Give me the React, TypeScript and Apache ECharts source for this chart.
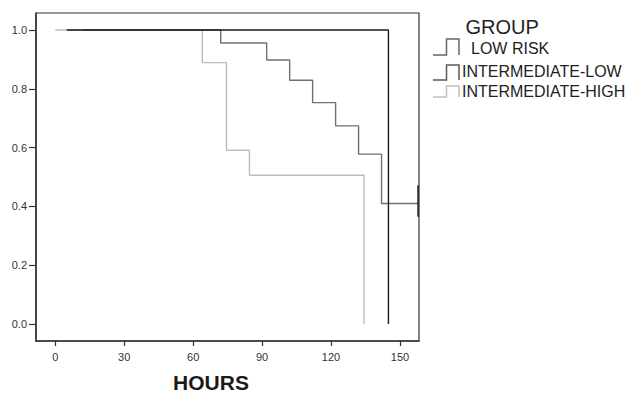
import React, { useEffect, useRef } from "react";
import * as echarts from "echarts";

const xTicks = [0, 30, 60, 90, 120, 150];
const yTicks = [0, 0.2, 0.4, 0.6, 0.8, 1.0];
const xRange = [-8.4, 158.3];
const yRange = [-0.058, 1.058];

const groupNames = ["LOW RISK", "INTERMEDIATE-LOW", "INTERMEDIATE-HIGH"];
const groupColors = ["#1a1a1a", "#707070", "#bdbdbd"];
const legendIconColors = ["#666666", "#5a5a5a", "#c0c0c0"];

const lowRisk: [number, number][] = [
  [5, 1.0],
  [145, 0.0],
];
const intermediateLow: [number, number][] = [
  [12, 1.0],
  [72, 0.956],
  [92, 0.898],
  [102, 0.829],
  [112, 0.753],
  [122, 0.674],
  [132, 0.578],
  [142, 0.41],
  [158.3, 0.41],
];
const intermediateHigh: [number, number][] = [
  [0, 1.0],
  [64, 0.889],
  [74.5, 0.591],
  [84.5, 0.506],
  [134.4, 0.0],
];
const censorMark: [number, number][] = [
  [157.9, 0.472],
  [157.9, 0.365],
];

export default function App() {
  const ref = useRef<HTMLDivElement>(null);
  useEffect(() => {
    if (!ref.current) return;
    const chart = echarts.init(ref.current, null, { renderer: "svg" });
    const font = "'Liberation Sans', Arial, sans-serif";
    const seriesData = [lowRisk, intermediateLow, intermediateHigh];
    const legendRows = [
      { iconTop: 39, iconBottom: 55, textX: 471, textY: 48 },
      { iconTop: 65, iconBottom: 80, textX: 462, textY: 71.5 },
      { iconTop: 86, iconBottom: 97, textX: 462, textY: 91.5 },
    ];
    const graphics: any[] = [
      {
        type: "text",
        x: 465.5,
        y: 27,
        style: {
          text: "GROUP",
          font: `20px ${font}`,
          fill: "#222",
          textVerticalAlign: "middle",
        },
      },
    ];
    legendRows.forEach((r, i) => {
      graphics.push({
        type: "polyline",
        shape: {
          points: [
            [433, r.iconBottom],
            [446.5, r.iconBottom],
            [446.5, r.iconTop],
            [459, r.iconTop],
            [459, r.iconBottom],
          ],
        },
        style: { stroke: legendIconColors[i], lineWidth: 1.5, fill: null },
      });
      graphics.push({
        type: "text",
        x: r.textX,
        y: r.textY,
        style: {
          text: groupNames[i],
          font: `16px ${font}`,
          fill: "#222",
          textVerticalAlign: "middle",
        },
      });
    });
    graphics.push({
      type: "text",
      x: 211,
      y: 382.5,
      style: {
        text: "HOURS",
        font: `bold 21px ${font}`,
        fill: "#1a1a1a",
        textAlign: "center",
        textVerticalAlign: "middle",
      },
    });

    chart.setOption({
      animation: false,
      backgroundColor: "#fff",
      grid: {
        left: 36,
        right: 206,
        top: 13,
        bottom: 54,
        show: true,
        borderColor: "#333",
        borderWidth: 1.2,
        containLabel: false,
      },
      xAxis: {
        type: "value",
        min: xRange[0],
        max: xRange[1],
        splitLine: { show: false },
        axisLine: { show: true, onZero: false, lineStyle: { color: "#333", width: 1.5 } },
        axisTick: {
          show: true,
          customValues: xTicks,
          length: 5,
          lineStyle: { color: "#333", width: 1.2 },
        },
        axisLabel: {
          customValues: xTicks,
          margin: 10,
          fontSize: 11,
          fontFamily: font,
          color: "#333",
        },
      },
      yAxis: {
        type: "value",
        min: yRange[0],
        max: yRange[1],
        splitLine: { show: false },
        axisLine: { show: true, onZero: false, lineStyle: { color: "#333", width: 1.5 } },
        axisTick: {
          show: true,
          customValues: yTicks,
          length: 7,
          lineStyle: { color: "#333", width: 1.2 },
        },
        axisLabel: {
          customValues: yTicks,
          margin: 9,
          fontSize: 11,
          fontFamily: font,
          color: "#333",
          formatter: (v: number) => v.toFixed(1),
        },
      },
      series: [
        ...seriesData.map((d, i) => ({
          type: "line",
          name: groupNames[i],
          step: "end",
          data: d,
          symbol: "none",
          z: 3 - i,
          lineStyle: { color: groupColors[i], width: 1.4 },
        })),
        {
          type: "line",
          name: "censor",
          data: censorMark,
          symbol: "none",
          clip: false,
          z: 4,
          lineStyle: { color: "#222", width: 1.6 },
        },
      ],
      graphic: graphics,
    });
    return () => chart.dispose();
  }, []);
  return (
    <div
      ref={ref}
      style={{ position: "fixed", left: 0, top: 0, width: 625, height: 395 }}
    />
  );
}
